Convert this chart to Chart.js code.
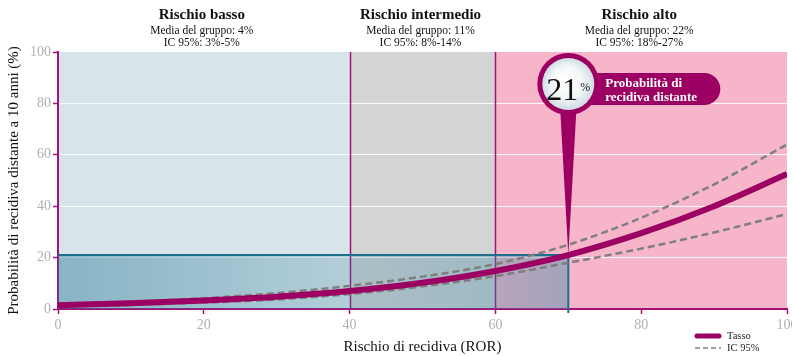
<!DOCTYPE html>
<html><head><meta charset="utf-8">
<script src="https://cdn.jsdelivr.net/npm/chart.js@4"></script>
<style>html,body{margin:0;padding:0;background:#fff;}canvas{display:block}</style>
</head><body>
<canvas id="c" width="792" height="356"></canvas>
<script>
const rorValues   = [0, 10, 20, 30, 40, 50, 60, 70, 80, 90, 100];
const tassoValues = [1.5, 2.2, 3.3, 4.8, 7.0, 10.2, 14.8, 21, 29.5, 40, 52.5];
const upperValues = [2.0, 2.9, 4.2, 6.2, 9.0, 12.6, 17.5, 25, 35.5, 48.5, 64];
const lowerValues = [1.0, 1.6, 2.5, 3.7, 5.8, 8.8, 12.8, 18, 23.5, 29.8, 37];
const xTicks = [0, 20, 40, 60, 80, 100];
const yTicks = [0, 20, 40, 60, 80, 100];
const regionBounds = [0, 40, 60, 100];
const regionTitles = ['Rischio basso', 'Rischio intermedio', 'Rischio alto'];
const regionMeans = ['Media del gruppo: 4%', 'Media del gruppo: 11%', 'Media del gruppo: 22%'];
const regionCIs = ['IC 95%: 3%-5%', 'IC 95%: 8%-14%', 'IC 95%: 18%-27%'];
const regionColors = ['#d7e5eb', '#d3d4d4', '#f6b5c9'];
const highlightRor = 70;
const highlightProb = 21;
const highlightText = ['Probabilità di', 'recidiva distante'];
const legendLabels = ['Tasso', 'IC 95%'];

const MAG = '#9c0062';
const AXIS = '#a4107a';
const TEAL = '#1d6f8a';
const GRAY = '#7f7f7f';
const SERIF = '"Liberation Serif", "DejaVu Serif", serif';

const pts = arr => rorValues.map((x, i) => ({x, y: arr[i]}));

const deco = {
  id: 'deco',
  beforeDraw(chart) {
    const {ctx, chartArea: a, scales: {x}} = chart;
    ctx.save();
    for (let i = 0; i < regionColors.length; i++) {
      const x0 = x.getPixelForValue(regionBounds[i]);
      const x1 = x.getPixelForValue(regionBounds[i + 1]);
      ctx.fillStyle = regionColors[i];
      ctx.fillRect(x0, a.top, x1 - x0, a.bottom - a.top);
    }
    ctx.restore();
  },
  beforeDatasetsDraw(chart) {
    const {ctx, chartArea: a, scales: {x, y}} = chart;
    ctx.save();
    ctx.strokeStyle = AXIS;
    ctx.lineWidth = 1.5;
    for (let i = 1; i < regionBounds.length - 1; i++) {
      const px = Math.round(x.getPixelForValue(regionBounds[i])) + 0.5;
      ctx.beginPath(); ctx.moveTo(px, a.top); ctx.lineTo(px, a.bottom); ctx.stroke();
    }
    const bx0 = x.getPixelForValue(0), bx1 = x.getPixelForValue(highlightRor);
    const by0 = y.getPixelForValue(highlightProb), by1 = y.getPixelForValue(0);
    const g = ctx.createLinearGradient(bx0, 0, bx1, 0);
    g.addColorStop(0, 'rgba(40,120,150,0.45)');
    g.addColorStop(0.55, 'rgba(40,120,150,0.22)');
    g.addColorStop(0.86, 'rgba(50,130,160,0.32)');
    g.addColorStop(1, 'rgba(60,140,170,0.44)');
    ctx.fillStyle = g;
    ctx.fillRect(bx0, by0, bx1 - bx0, by1 - by0);
    ctx.strokeStyle = TEAL;
    ctx.lineWidth = 2;
    ctx.beginPath();
    ctx.moveTo(bx0, by0); ctx.lineTo(bx1, by0); ctx.lineTo(bx1, by1 + 4);
    ctx.stroke();
    ctx.restore();
  },
  afterDatasetsDraw(chart) {
    const {ctx, chartArea: a, scales: {x, y}} = chart;
    const tx = x.getPixelForValue(highlightRor), ty = y.getPixelForValue(highlightProb);
    const cx = tx, cy = a.top + 32, r = 31;
    ctx.save();
    ctx.fillStyle = MAG;
    ctx.beginPath();
    ctx.moveTo(cx - 8, cy + r - 4); ctx.lineTo(cx + 8, cy + r - 4); ctx.lineTo(tx, ty); ctx.closePath();
    ctx.fill();
    const px0 = cx + 15, px1 = cx + 152, py0 = cy - 11, py1 = cy + 21, pr = 16;
    ctx.beginPath();
    ctx.moveTo(px0, py0); ctx.lineTo(px1 - pr, py0);
    ctx.arc(px1 - pr, py0 + pr, pr, -Math.PI / 2, Math.PI / 2);
    ctx.lineTo(px0, py1); ctx.closePath();
    ctx.fill();
    ctx.beginPath(); ctx.arc(cx, cy, r, 0, Math.PI * 2); ctx.fill();
    const rg = ctx.createRadialGradient(cx - 4, cy - 4, 2, cx, cy, r - 5);
    rg.addColorStop(0, '#ffffff');
    rg.addColorStop(0.6, '#f2f6f7');
    rg.addColorStop(1, '#cfdde3');
    ctx.fillStyle = rg;
    ctx.beginPath(); ctx.arc(cx, cy, r - 5, 0, Math.PI * 2); ctx.fill();
    ctx.fillStyle = '#111';
    ctx.textBaseline = 'alphabetic';
    ctx.textAlign = 'center';
    ctx.font = '32px ' + SERIF;
    ctx.fillText(String(highlightProb), cx - 6, cy + 16);
    ctx.font = '12px ' + SERIF;
    ctx.fillText('%', cx + 17, cy + 7);
    ctx.fillStyle = '#fff';
    ctx.textAlign = 'left';
    ctx.font = 'bold 13px ' + SERIF;
    ctx.fillText(highlightText[0], cx + 37, cy + 3);
    ctx.fillText(highlightText[1], cx + 37, cy + 17);
    ctx.restore();
  },
  afterDraw(chart) {
    const {ctx, scales: {x}} = chart;
    ctx.save();
    ctx.textAlign = 'center';
    ctx.textBaseline = 'middle';
    ctx.fillStyle = '#111';
    for (let i = 0; i < regionTitles.length; i++) {
      const c = x.getPixelForValue((regionBounds[i] + regionBounds[i + 1]) / 2) - 2;
      ctx.font = 'bold 15px ' + SERIF;
      ctx.fillText(regionTitles[i], c, 15);
      ctx.font = '11.5px ' + SERIF;
      ctx.fillText(regionMeans[i], c, 31);
      ctx.fillText(regionCIs[i], c, 43);
    }
    ctx.lineWidth = 5; ctx.strokeStyle = MAG; ctx.lineCap = 'round';
    ctx.beginPath(); ctx.moveTo(697, 336); ctx.lineTo(719, 336); ctx.stroke();
    ctx.lineCap = 'butt';
    ctx.lineWidth = 1.5; ctx.strokeStyle = GRAY; ctx.setLineDash([5, 3]);
    ctx.beginPath(); ctx.moveTo(695, 348); ctx.lineTo(721, 348); ctx.stroke();
    ctx.setLineDash([]);
    ctx.textAlign = 'left';
    ctx.font = '10.5px ' + SERIF;
    ctx.fillStyle = '#222';
    ctx.fillText(legendLabels[0], 727, 336);
    ctx.fillText(legendLabels[1], 727, 348);
    ctx.restore();
  }
};

const tickFont = {family: SERIF, size: 14};
new Chart(document.getElementById('c'), {
  type: 'line',
  data: {
    datasets: [
      {label: 'IC 95% sup', data: pts(upperValues), borderColor: GRAY, borderWidth: 2.5, borderDash: [7, 4], pointRadius: 0, cubicInterpolationMode: 'monotone', fill: false, order: 2},
      {label: 'IC 95% inf', data: pts(lowerValues), borderColor: GRAY, borderWidth: 2.5, borderDash: [7, 4], pointRadius: 0, cubicInterpolationMode: 'monotone', fill: false, order: 2},
      {label: 'Tasso', data: pts(tassoValues), borderColor: MAG, borderWidth: 6, pointRadius: 0, cubicInterpolationMode: 'monotone', fill: false, order: 1}
    ]
  },
  options: {
    responsive: false,
    animation: false,
    devicePixelRatio: 1,
    layout: {padding: {top: 52, right: 5, left: 0, bottom: 0}},
    plugins: {legend: {display: false}, tooltip: {enabled: false}},
    scales: {
      x: {
        type: 'linear', min: 0, max: 100,
        afterBuildTicks: s => { s.ticks = xTicks.map(v => ({value: v})); },
        afterFit: s => { s.height = 47; s.paddingLeft = 0; s.paddingRight = 0; },
        ticks: {color: '#b0b0b0', font: tickFont, padding: 3, maxRotation: 0},
        grid: {drawOnChartArea: false, tickLength: 5, tickColor: AXIS, tickWidth: 1.5},
        border: {color: AXIS, width: 2},
        title: {display: true, text: 'Rischio di recidiva (ROR)', color: '#111', font: {family: SERIF, size: 15}, padding: {top: 3, bottom: 0}}
      },
      y: {
        min: 0, max: 100,
        afterBuildTicks: s => { s.ticks = yTicks.map(v => ({value: v})); },
        afterFit: s => { s.width = 58; s.paddingTop = 0; s.paddingBottom = 0; },
        ticks: {color: '#b0b0b0', font: tickFont, padding: 2},
        grid: {
          color: c => (c.tick && (c.tick.value === 0 || c.tick.value === 100)) ? 'rgba(0,0,0,0)' : 'rgba(255,255,255,0.9)',
          lineWidth: 1, tickLength: 5, tickColor: AXIS, tickWidth: 1.5
        },
        border: {color: AXIS, width: 2},
        title: {display: true, text: 'Probabilità di recidiva distante a 10 anni (%)', color: '#111', font: {family: SERIF, size: 15}, padding: {top: 5, bottom: 0}}
      }
    }
  },
  plugins: [deco]
});
</script>
</body></html>
